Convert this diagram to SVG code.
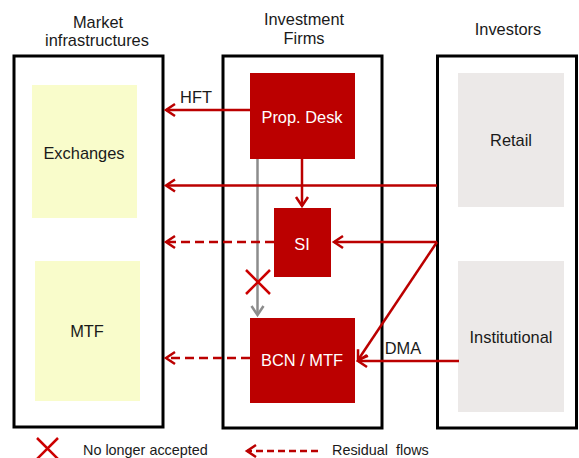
<svg xmlns="http://www.w3.org/2000/svg" width="579" height="458" viewBox="0 0 579 458">
  <style>
    .frame { fill: #ffffff; stroke: #000000; stroke-width: 3; }
    .venue { fill: #F9FCCB; }
    .client { fill: #ECE9E8; }
    .firm { fill: #BB0000; }
    .lbl { font-family: "Liberation Sans", Arial, sans-serif; font-size: 16.4px; fill: #1a1a1a; text-anchor: middle; }
    .wlbl { font-family: "Liberation Sans", Arial, sans-serif; font-size: 16.4px; fill: #ffffff; text-anchor: middle; }
    .leg { font-family: "Liberation Sans", Arial, sans-serif; font-size: 14.4px; fill: #1a1a1a; }
    .flow { fill: none; stroke: #BB0000; stroke-width: 2.5; }
    .dash { stroke-dasharray: 9 5; }
    .legdash { stroke-dasharray: 7 4; }
    .grey { fill: none; stroke: #8C8C8C; stroke-width: 2.5; }
    .cross { fill: none; stroke: #CC0000; stroke-width: 2.5; }
  </style>
  <defs>
    <marker id="head" markerUnits="userSpaceOnUse" viewBox="-12 -8 14 16" refX="0" refY="0" markerWidth="14" markerHeight="16" orient="auto" overflow="visible">
      <path d="M-9,-6 L0,0 L-9,6" fill="none" stroke="#BB0000" stroke-width="2.5"/>
    </marker>
    <marker id="headGrey" markerUnits="userSpaceOnUse" viewBox="-12 -8 14 16" refX="0" refY="0" markerWidth="14" markerHeight="16" orient="auto" overflow="visible">
      <path d="M-9,-6 L0,0 L-9,6" fill="none" stroke="#8C8C8C" stroke-width="2.5"/>
    </marker>
  </defs>

  <!-- column headings -->
  <text class="lbl" x="98" y="28">Market</text>
  <text class="lbl" x="97" y="46">infrastructures</text>
  <text class="lbl" x="304" y="25">Investment</text>
  <text class="lbl" x="304" y="44">Firms</text>
  <text class="lbl" x="508" y="35">Investors</text>

  <!-- column frames -->
  <g id="market-infrastructures">
    <rect class="frame" x="14" y="56" width="149" height="371"/>
  </g>
  <g id="investment-firms">
    <rect class="frame" x="223" y="56" width="159" height="372"/>
  </g>
  <g id="investors">
    <rect class="frame" x="437.5" y="56" width="139" height="372"/>
  </g>

  <!-- venues -->
  <g id="exchanges">
    <rect class="venue" x="32" y="85" width="105" height="133"/>
    <text class="lbl" x="84" y="159">Exchanges</text>
  </g>
  <g id="mtf">
    <rect class="venue" x="35" y="261" width="105" height="140"/>
    <text class="lbl" x="87" y="337">MTF</text>
  </g>

  <!-- investors -->
  <g id="retail">
    <rect class="client" x="458" y="73" width="106" height="134"/>
    <text class="lbl" x="511" y="146">Retail</text>
  </g>
  <g id="institutional">
    <rect class="client" x="458" y="261" width="106" height="151"/>
    <text class="lbl" x="511" y="343">Institutional</text>
  </g>

  <!-- firm desks -->
  <g id="prop-desk">
    <rect class="firm" x="250" y="73" width="105" height="86"/>
    <text class="wlbl" x="302" y="123">Prop. Desk</text>
  </g>
  <g id="si">
    <rect class="firm" x="274" y="208" width="57" height="69"/>
    <text class="wlbl" x="302" y="250">SI</text>
  </g>
  <g id="bcn-mtf">
    <rect class="firm" x="250" y="318" width="105" height="85"/>
    <text class="wlbl" x="302" y="366">BCN / MTF</text>
  </g>

  <!-- flows -->
  <g id="connectors">
    <line class="grey" x1="257.5" y1="159" x2="257.5" y2="315" marker-end="url(#headGrey)"/>
    <path class="cross" d="M246,270 L270,294 M270,270 L246,294"/>

    <line class="flow" x1="250" y1="110" x2="166" y2="110" marker-end="url(#head)"/>
    <text class="lbl" x="196" y="103">HFT</text>

    <line class="flow" x1="437" y1="185.5" x2="166" y2="185.5" marker-end="url(#head)"/>
    <line class="flow" x1="302" y1="159" x2="302" y2="206" marker-end="url(#head)"/>
    <line class="flow" x1="437" y1="242" x2="334" y2="242" marker-end="url(#head)"/>
    <line class="flow" x1="437" y1="242" x2="358" y2="360" marker-end="url(#head)"/>
    <line class="flow" x1="459" y1="361" x2="358" y2="361" marker-end="url(#head)"/>
    <text class="lbl" x="403" y="354">DMA</text>

    <line class="flow dash" x1="274" y1="242" x2="166" y2="242" marker-end="url(#head)"/>
    <line class="flow dash" x1="250" y1="358" x2="166" y2="358" marker-end="url(#head)"/>
  </g>

  <!-- legend -->
  <g id="legend">
    <path class="cross" d="M37,438 L58,459 M58,438 L37,459"/>
    <text class="leg" x="83" y="455">No longer accepted</text>
    <line class="flow legdash" x1="318" y1="451" x2="247" y2="451" marker-end="url(#head)"/>
    <text class="leg" x="332" y="455" xml:space="preserve">Residual  flows</text>
  </g>
</svg>
